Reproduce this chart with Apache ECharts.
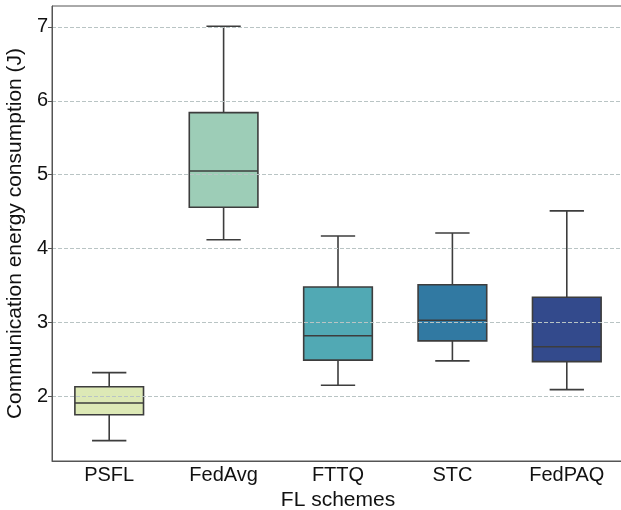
<!DOCTYPE html>
<html>
<head>
<meta charset="utf-8">
<script src="https://cdn.jsdelivr.net/npm/echarts@6/dist/echarts.min.js"></script>
<style>html,body{margin:0;padding:0;background:#fff}#c{width:621px;height:510px}</style>
</head>
<body>
<div id="c"></div>
<script>
const categories = ['PSFL', 'FedAvg', 'FTTQ', 'STC', 'FedPAQ'];
// [min, Q1, median, Q3, max]
const boxMin    = [1.40, 4.12, 2.15, 2.48, 2.09];
const boxQ1     = [1.75, 4.56, 2.49, 2.75, 2.47];
const boxMedian = [1.91, 5.05, 2.82, 3.03, 2.67];
const boxQ3     = [2.13, 5.84, 3.48, 3.51, 3.34];
const boxMax    = [2.32, 7.01, 4.17, 4.21, 4.51];
const colors = ['#dde9b6', '#9dcdb7', '#51a9b4', '#3179a2', '#334a8c'];
const yTicks = [2, 3, 4, 5, 6, 7];

const data = categories.map((c, i) => [i, boxMin[i], boxQ1[i], boxMedian[i], boxQ3[i], boxMax[i]]);
const font = 'Liberation Sans, Arial, sans-serif';
const edge = '#3d3d3d';

const chart = echarts.init(document.getElementById('c'), null, {renderer: 'canvas'});
chart.setOption({
  animation: false,
  grid: {left: 52, right: -3, top: 6, bottom: 49, outerBoundsMode: 'none', containLabel: false,
         show: true, borderColor: '#555', borderWidth: 1, backgroundColor: 'transparent', z: 0},
  xAxis: {
    type: 'category', data: categories,
    name: 'FL schemes', nameLocation: 'middle', nameGap: 25,
    nameTextStyle: {fontFamily: font, fontSize: 21, color: '#111'},
    axisLine: {lineStyle: {color: '#555', width: 1}},
    axisTick: {alignWithLabel: true, length: 4, lineStyle: {color: '#555'}},
    axisLabel: {fontFamily: font, fontSize: 20, color: '#111', margin: 4},
    splitLine: {show: false}
  },
  yAxis: {
    type: 'value', min: 1.124, max: 7.284, z: 10,
    name: 'Communication energy consumption (J)', nameLocation: 'middle', nameGap: 21,
    nameRotate: 90,
    nameTextStyle: {fontFamily: font, fontSize: 21, color: '#111'},
    axisLine: {show: true, lineStyle: {color: '#555', width: 1}},
    axisTick: {show: true, length: 4, customValues: yTicks, lineStyle: {color: '#555'}},
    axisLabel: {fontFamily: font, fontSize: 20, color: '#111', margin: 4, customValues: yTicks},
    splitLine: {show: true, lineStyle: {color: '#b9c4c4', type: [4, 2], width: 1}}
  },
  series: [{
    type: 'custom',
    data: data,
    encode: {x: 0, y: [1, 2, 3, 4, 5]},
    z: 2,
    renderItem: function (params, api) {
      const i = api.value(0);
      const band = api.size([1, 0])[0];
      const bw = band * 0.6, cw = bw / 2;
      const pMin = api.coord([i, api.value(1)]);
      const pQ1 = api.coord([i, api.value(2)]);
      const pMed = api.coord([i, api.value(3)]);
      const pQ3 = api.coord([i, api.value(4)]);
      const pMax = api.coord([i, api.value(5)]);
      const x = pMed[0];
      const ls = {stroke: edge, lineWidth: 1.6};
      return {
        type: 'group',
        children: [
          {type: 'line', shape: {x1: x, y1: pQ1[1], x2: x, y2: pMin[1]}, style: ls},
          {type: 'line', shape: {x1: x, y1: pQ3[1], x2: x, y2: pMax[1]}, style: ls},
          {type: 'line', shape: {x1: x - cw / 2, y1: pMin[1], x2: x + cw / 2, y2: pMin[1]}, style: ls},
          {type: 'line', shape: {x1: x - cw / 2, y1: pMax[1], x2: x + cw / 2, y2: pMax[1]}, style: ls},
          {type: 'rect', shape: {x: x - bw / 2, y: pQ3[1], width: bw, height: pQ1[1] - pQ3[1]},
           style: {fill: colors[i], stroke: edge, lineWidth: 1.6}},
          {type: 'line', shape: {x1: x - bw / 2, y1: pMed[1], x2: x + bw / 2, y2: pMed[1]}, style: ls}
        ]
      };
    }
  }]
});
</script>
</body>
</html>
